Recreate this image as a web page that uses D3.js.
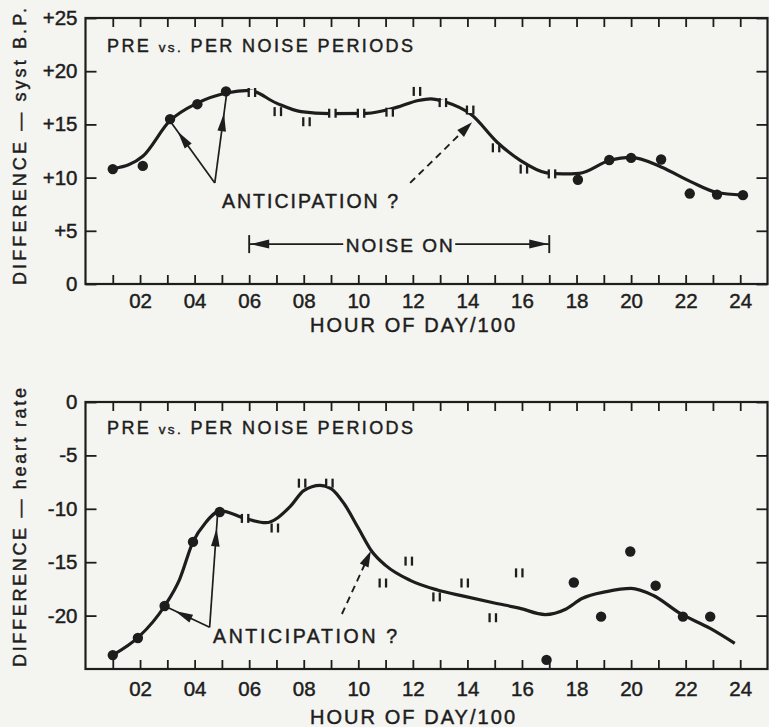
<!DOCTYPE html>
<html><head><meta charset="utf-8">
<script src="https://cdn.jsdelivr.net/npm/d3@7"></script>
<style>
body{margin:0;background:#f4f4f0}
svg{display:block}
text{font-family:"Liberation Sans",Arial,Helvetica,sans-serif;fill:#1d1d1d;stroke:#1d1d1d;stroke-width:0.45px}
</style>
</head><body>
<svg id="c" width="769" height="727"></svg>
<script>
// ---------- DATA ----------
const hourTicks = d3.range(1, 25);
const hourLabel = h => (h % 2 === 0 ? String(h).padStart(2, "0") : "");
const xTitle = "HOUR OF DAY/100";

// systolic blood pressure panel
const bpTicks = [0, 5, 10, 15, 20, 25];
const bpTickLabels = ["0", "+5", "+10", "+15", "+20", "+25"];
const bpPreHours = [1.0, 2.1, 3.1, 4.1, 5.15];
const bpPreValues = [10.8, 11.1, 15.5, 16.9, 18.1];
const bpNoiseHours = [6.1, 7.05, 8.1, 9.05, 10.1, 11.15, 12.15, 13.1, 14.1, 15.05, 16.07, 17.1];
const bpNoiseValues = [18.0, 16.2, 15.25, 16.05, 16.05, 16.15, 18.1, 17.05, 16.35, 12.8, 10.8, 10.35];
const bpPostHours = [18.05, 19.2, 20.0, 21.1, 22.15, 23.15, 24.1];
const bpPostValues = [9.8, 11.65, 11.85, 11.7, 8.5, 8.4, 8.35];
const bpCurveHours = [1.06, 2.1, 3.08, 4.1, 5.16, 6.0, 7.0, 7.9, 8.96, 10.3, 11.4, 12.2, 12.65, 13.2, 14.15, 15.1, 15.95, 16.9, 17.5, 18.1, 19.2, 20.0, 21.1, 22.2, 23.15, 24.07];
const bpCurveValues = [10.85, 12.0, 15.3, 17.0, 17.95, 18.2, 17.0, 16.2, 16.02, 16.04, 16.6, 17.25, 17.4, 17.1, 15.9, 13.3, 11.6, 10.45, 10.35, 10.4, 11.6, 11.9, 11.0, 9.6, 8.6, 8.36];

// heart rate panel
const hrTicks = [-20, -15, -10, -5, 0];
const hrTickLabels = ["-20", "-15", "-10", "-5", "0"];
const hrPreHours = [1.0, 1.92, 2.9, 3.94, 4.92];
const hrPreValues = [-23.7, -22.1, -19.1, -13.1, -10.3];
const hrNoiseHours = [5.85, 6.94, 7.94, 8.94, 10.9, 11.85, 12.87, 13.9, 14.93, 15.9];
const hrNoiseValues = [-10.9, -11.8, -7.6, -7.6, -16.95, -14.9, -18.25, -16.95, -20.2, -16.0];
const hrPostHours = [16.9, 17.9, 18.9, 19.97, 20.9, 21.9, 22.9];
const hrPostValues = [-24.15, -16.9, -20.1, -14.0, -17.2, -20.1, -20.1];
const hrCurveHours = [1.0, 1.95, 2.9, 3.45, 3.94, 4.4, 4.95, 5.85, 6.6, 7.5, 8.0, 8.6, 9.0, 9.5, 10.0, 10.5, 11.0, 11.9, 12.9, 13.9, 14.95, 15.9, 16.85, 17.6, 18.2, 19.1, 20.0, 20.8, 21.8, 22.9, 23.8];
const hrCurveValues = [-23.7, -22.0, -19.1, -16.6, -13.1, -11.3, -10.2, -10.9, -11.3, -9.8, -8.3, -7.8, -8.1, -9.6, -11.8, -14.0, -15.3, -16.7, -17.6, -18.2, -18.8, -19.3, -19.9, -19.4, -18.4, -17.75, -17.45, -18.1, -19.8, -21.2, -22.6];

// annotations (data units)
const panelLabel = ["PRE ", "vs.", " PER NOISE PERIODS"];
const anticipationLabel = "ANTICIPATION ?";
const noiseOnLabel = "NOISE ON";
const noiseOnHours = [6.0, 17.0];
const noiseOnValue = 3.75;
const bpArrowFrom = [4.74, 9.5];
const bpArrowTo = [[3.08, 15.4], [5.18, 18.0]];
const bpArrowHead = [0.82, 0.77];
const bpDashFrom = [11.9, 9.5];
const bpDashTo = [14.17, 15.2];
const hrArrowFrom = [4.55, -21.1];
const hrArrowTo = [[2.9, -19.1], [4.85, -10.2]];
const hrArrowHead = [0.77, 0.85];
const hrDashFrom = [9.4, -19.85];
const hrDashTo = [10.46, -13.95];

// ---------- DRAW ----------
const INK = "#1d1d1d", BG = "#f4f4f0";
const svg = d3.select("#c");
svg.append("rect").attr("width", 769).attr("height", 727).attr("fill", BG);

const x = d3.scaleLinear().domain([0, 25]).range([85.5, 767.5]);
const zip = (a, b) => a.map((v, i) => [v, b[i]]);

function arrowHead(g, p0, tip, len, hw) {
  const dx = tip[0] - p0[0], dy = tip[1] - p0[1];
  const d = Math.hypot(dx, dy), ux = dx / d, uy = dy / d;
  const bx = tip[0] - ux * len, by = tip[1] - uy * len;
  g.append("path")
    .attr("d", `M${tip[0]},${tip[1]}L${bx - uy * hw},${by + ux * hw}L${bx + uy * hw},${by - ux * hw}Z`)
    .attr("fill", INK);
}

function panel(o) {
  const y = d3.scaleLinear().domain(o.domain).range(o.range);
  const g = svg.append("g");
  const x0 = x.range()[0], x1 = x.range()[1], yT = o.range[1], yB = o.range[0];

  const styleAxis = (sel, fs) => {
    sel.attr("font-size", null).attr("font-family", null);
    sel.select(".domain").remove();
    sel.selectAll(".tick line").attr("stroke", INK).attr("stroke-width", 1.8);
    sel.selectAll(".tick text").attr("font-size", fs).attr("fill", INK);
  };
  g.append("g").attr("transform", `translate(0,${yB})`)
    .call(d3.axisBottom(x).tickValues(hourTicks).tickSize(-9).tickPadding(o.xPad).tickFormat(hourLabel))
    .call(s => styleAxis(s, 20.5));
  g.append("g").attr("transform", `translate(0,${yT})`)
    .call(d3.axisTop(x).tickValues(hourTicks).tickSize(-9).tickFormat(""))
    .call(s => styleAxis(s, 20));
  g.append("g").attr("transform", `translate(${x0},0)`)
    .call(d3.axisLeft(y).tickValues(o.ticks).tickSize(-11).tickPadding(8).tickFormat((d, i) => o.tickLabels[i]))
    .call(s => styleAxis(s, 20.5));
  g.append("g").attr("transform", `translate(${x1},0)`)
    .call(d3.axisRight(y).tickValues(o.ticks).tickSize(-11).tickFormat(""))
    .call(s => styleAxis(s, 20));

  g.append("rect").attr("x", x0).attr("y", yT).attr("width", x1 - x0).attr("height", yB - yT)
    .attr("fill", "none").attr("stroke", INK).attr("stroke-width", 2.2);

  // titles
  g.append("text").attr("transform", `translate(26,${o.yTitleY}) rotate(-90)`)
    .attr("text-anchor", "middle").attr("font-size", 18)
    .attr("textLength", o.yTitleLen).attr("lengthAdjust", "spacing").text(o.yTitle);
  g.append("text").attr("x", 412.5).attr("y", o.xTitleY).attr("text-anchor", "middle")
    .attr("font-size", 20).attr("textLength", 205).attr("lengthAdjust", "spacing").text(xTitle);
  const pl = g.append("text").attr("x", 107).attr("y", o.labelY).attr("font-size", 18)
    .attr("textLength", 306).attr("lengthAdjust", "spacing");
  pl.append("tspan").text(panelLabel[0]);
  pl.append("tspan").attr("font-size", 13.5).text(panelLabel[1]);
  pl.append("tspan").text(panelLabel[2]);

  // curve
  const line = d3.line().x(d => x(d[0])).y(d => y(d[1])).curve(d3.curveMonotoneX);
  g.append("path").datum(zip(o.curveH, o.curveV)).attr("d", line)
    .attr("fill", "none").attr("stroke", INK).attr("stroke-width", 3.2).attr("stroke-linejoin", "round");

  // noise-period markers "ıı"
  const nm = g.selectAll(".nm").data(zip(o.noiseH, o.noiseV)).join("g")
    .attr("transform", d => `translate(${x(d[0])},${y(d[1])})`);
  nm.append("rect").attr("x", -2.6).attr("y", -3).attr("width", 5.2).attr("height", 6).attr("fill", BG);
  nm.selectAll("line").data([-3.2, 3.2]).join("line")
    .attr("x1", d => d).attr("x2", d => d).attr("y1", -4.5).attr("y2", 4.5)
    .attr("stroke", INK).attr("stroke-width", 2.3);

  // dots
  g.selectAll(".dot").data(zip(o.preH, o.preV).concat(zip(o.postH, o.postV))).join("circle")
    .attr("cx", d => x(d[0])).attr("cy", d => y(d[1])).attr("r", 5.2).attr("fill", INK);

  // solid arrows
  const p = d => [x(d[0]), y(d[1])];
  const from = p(o.arrowFrom);
  o.arrowTo.forEach((t, i) => {
    const to = p(t);
    g.append("line").attr("x1", from[0]).attr("y1", from[1]).attr("x2", to[0]).attr("y2", to[1])
      .attr("stroke", INK).attr("stroke-width", 1.7);
    const f = o.arrowHead[i];
    arrowHead(g, from, [from[0] + (to[0] - from[0]) * f, from[1] + (to[1] - from[1]) * f], 18, 4.3);
  });
  // dashed arrow
  const df = p(o.dashFrom), dt = p(o.dashTo);
  g.append("line").attr("x1", df[0]).attr("y1", df[1]).attr("x2", dt[0] - (dt[0] - df[0]) * 0.1).attr("y2", dt[1] - (dt[1] - df[1]) * 0.1)
    .attr("stroke", INK).attr("stroke-width", 1.9).attr("stroke-dasharray", "7,5");
  arrowHead(g, df, dt, 16, 4.8);

  g.append("text").attr("x", o.antX).attr("y", o.antY).attr("font-size", 19.5)
    .attr("textLength", o.antLen).attr("lengthAdjust", "spacing").text(anticipationLabel);

  if (o.noiseOn) {
    const yy = y(noiseOnValue), xa = x(noiseOnHours[0]), xb = x(noiseOnHours[1]);
    const xm = (xa + xb) / 2;
    [xa, xb].forEach(xx => g.append("line").attr("x1", xx).attr("x2", xx).attr("y1", yy - 9).attr("y2", yy + 9)
      .attr("stroke", INK).attr("stroke-width", 1.9));
    g.append("line").attr("x1", xa).attr("x2", xm - 56).attr("y1", yy).attr("y2", yy).attr("stroke", INK).attr("stroke-width", 1.7);
    g.append("line").attr("x1", xm + 56).attr("x2", xb).attr("y1", yy).attr("y2", yy).attr("stroke", INK).attr("stroke-width", 1.7);
    arrowHead(g, [xm, yy], [xa + 1, yy], 19, 4.5);
    arrowHead(g, [xm, yy], [xb - 1, yy], 19, 4.5);
    g.append("text").attr("x", xm).attr("y", yy + 7.5).attr("text-anchor", "middle").attr("font-size", 19)
      .attr("textLength", 107).attr("lengthAdjust", "spacing").text(noiseOnLabel);
  }
}

panel({
  domain: [0, 25], range: [284, 18], ticks: bpTicks, tickLabels: bpTickLabels, xPad: 9,
  yTitle: "DIFFERENCE — syst B.P.", yTitleY: 146.5, yTitleLen: 277, xTitleY: 332, labelY: 52,
  curveH: bpCurveHours, curveV: bpCurveValues, noiseH: bpNoiseHours, noiseV: bpNoiseValues,
  preH: bpPreHours, preV: bpPreValues, postH: bpPostHours, postV: bpPostValues,
  arrowFrom: bpArrowFrom, arrowTo: bpArrowTo, arrowHead: bpArrowHead,
  dashFrom: bpDashFrom, dashTo: bpDashTo, antX: 222, antY: 208, antLen: 176, noiseOn: true
});
panel({
  domain: [-25, 0], range: [669, 402], ticks: hrTicks, tickLabels: hrTickLabels, xPad: 12,
  yTitle: "DIFFERENCE — heart rate", yTitleY: 527.5, yTitleLen: 279, xTitleY: 724, labelY: 434,
  curveH: hrCurveHours, curveV: hrCurveValues, noiseH: hrNoiseHours, noiseV: hrNoiseValues,
  preH: hrPreHours, preV: hrPreValues, postH: hrPostHours, postV: hrPostValues,
  arrowFrom: hrArrowFrom, arrowTo: hrArrowTo, arrowHead: hrArrowHead,
  dashFrom: hrDashFrom, dashTo: hrDashTo, antX: 213, antY: 643, antLen: 184, noiseOn: false
});
</script>
</body></html>
